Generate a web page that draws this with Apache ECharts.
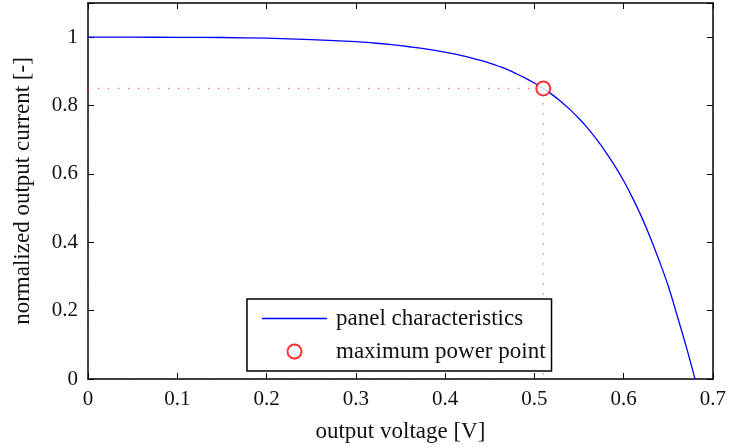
<!DOCTYPE html>
<html>
<head>
<meta charset="utf-8">
<script src="https://cdn.jsdelivr.net/npm/echarts@6/dist/echarts.min.js"></script>
<style>
  html, body { margin: 0; padding: 0; background: #fff; }
  #chart { width: 729px; height: 448px; }
</style>
</head>
<body>
<div id="chart"></div>
<script>
// values
const voltage = [0, 0.05, 0.1, 0.15, 0.2, 0.25, 0.3, 0.32, 0.34, 0.36, 0.38, 0.4, 0.41, 0.42, 0.43, 0.44,
  0.45, 0.46, 0.47, 0.48, 0.49, 0.5, 0.51, 0.52, 0.53, 0.54, 0.55, 0.56, 0.57, 0.58, 0.59, 0.6,
  0.61, 0.62, 0.63, 0.64, 0.65, 0.66, 0.67, 0.68]
const current = [1.0, 1.0, 0.9995, 0.999, 0.997, 0.993, 0.987, 0.983, 0.978, 0.972, 0.965, 0.956, 0.951, 0.945, 0.939, 0.932,
  0.924, 0.915, 0.905, 0.893, 0.88, 0.866, 0.85, 0.832, 0.811, 0.788, 0.762, 0.733, 0.7, 0.664, 0.624, 0.58,
  0.53, 0.475, 0.413, 0.345, 0.272, 0.185, 0.096, 0.0]
const mppVoltage = 0.51
const mppCurrent = 0.85
const xTicks = [0, 0.1, 0.2, 0.3, 0.4, 0.5, 0.6, 0.7]
const yTicks = [0, 0.2, 0.4, 0.6, 0.8, 1]

const font = 'Liberation Serif'
const chart = echarts.init(document.getElementById('chart'))

const curve = voltage.map((v, i) => [v, current[i]])
// dotted guide rectangle through the maximum power point
const guide = [[0, mppCurrent], [mppVoltage, mppCurrent], [mppVoltage, 0], [0, 0], [0, mppCurrent]]

const tickStyle = { show: true, inside: true, length: 6, lineStyle: { color: '#000', width: 1 } }
const frameLine = { show: true, onZero: false, lineStyle: { color: '#000', width: 1.5 } }

chart.setOption({
  animation: false,
  backgroundColor: '#fff',
  textStyle: { fontFamily: font },
  grid: { left: 88, right: 12, top: 3, bottom: 68 },
  legend: {
    orient: 'vertical',
    left: 247,
    top: 299,
    padding: [8, 6, 8, 15],
    itemGap: 10,
    itemWidth: 65,
    itemHeight: 14,
    backgroundColor: '#fff',
    borderColor: '#000',
    borderWidth: 1.5,
    borderRadius: 0,
    textStyle: { fontFamily: font, fontSize: 23, lineHeight: 22, color: '#111', padding: [0, 0, 0, 4] },
    data: [
      { name: 'panel characteristics', icon: 'path://M0,0H65V1.4H0Z' },
      { name: 'maximum power point' }
    ]
  },
  xAxis: [{
    type: 'value',
    min: 0,
    max: 0.7,
    interval: 0.1,
    name: 'output voltage [V]',
    nameLocation: 'middle',
    nameGap: 41,
    nameTextStyle: { fontFamily: font, fontSize: 23, color: '#111' },
    axisLine: frameLine,
    axisTick: tickStyle,
    splitLine: { show: false },
    axisLabel: {
      fontFamily: font, fontSize: 21, color: '#111', margin: 10,
      formatter: v => xTicks.includes(+v.toFixed(1)) ? String(+v.toFixed(1)) : ''
    }
  }, {
    type: 'value',
    position: 'top',
    min: 0,
    max: 0.7,
    interval: 0.1,
    axisLine: frameLine,
    axisTick: tickStyle,
    axisLabel: { show: false },
    splitLine: { show: false }
  }],
  yAxis: [{
    type: 'value',
    min: 0,
    max: 1.1,
    interval: 0.2,
    name: 'normalized output current [-]',
    nameLocation: 'middle',
    nameGap: 54,
    nameTextStyle: { fontFamily: font, fontSize: 23, color: '#111' },
    axisLine: frameLine,
    axisTick: tickStyle,
    splitLine: { show: false },
    axisLabel: {
      fontFamily: font, fontSize: 21, color: '#111', margin: 10,
      formatter: v => yTicks.includes(+v.toFixed(1)) ? String(+v.toFixed(1)) : ''
    }
  }, {
    type: 'value',
    position: 'right',
    min: 0,
    max: 1.1,
    interval: 0.2,
    axisLine: frameLine,
    axisTick: tickStyle,
    axisLabel: { show: false },
    splitLine: { show: false }
  }],
  series: [{
    name: 'guide',
    type: 'line',
    data: guide,
    symbol: 'none',
    silent: true,
    z: 1,
    lineStyle: { color: '#f33', width: 1.2, type: [1.2, 8.8], opacity: 0.8 }
  }, {
    name: 'panel characteristics',
    type: 'line',
    data: curve,
    symbol: 'none',
    smooth: 0.4,
    z: 3,
    lineStyle: { color: '#0000ff', width: 1.3 },
    itemStyle: { color: '#0000ff' }
  }, {
    name: 'maximum power point',
    type: 'scatter',
    data: [[mppVoltage, mppCurrent]],
    symbol: 'emptyCircle',
    symbolSize: 14,
    z: 4,
    itemStyle: { color: '#ff0000', borderColor: '#ff0000', borderWidth: 1.3 }
  }]
})
</script>
</body>
</html>
